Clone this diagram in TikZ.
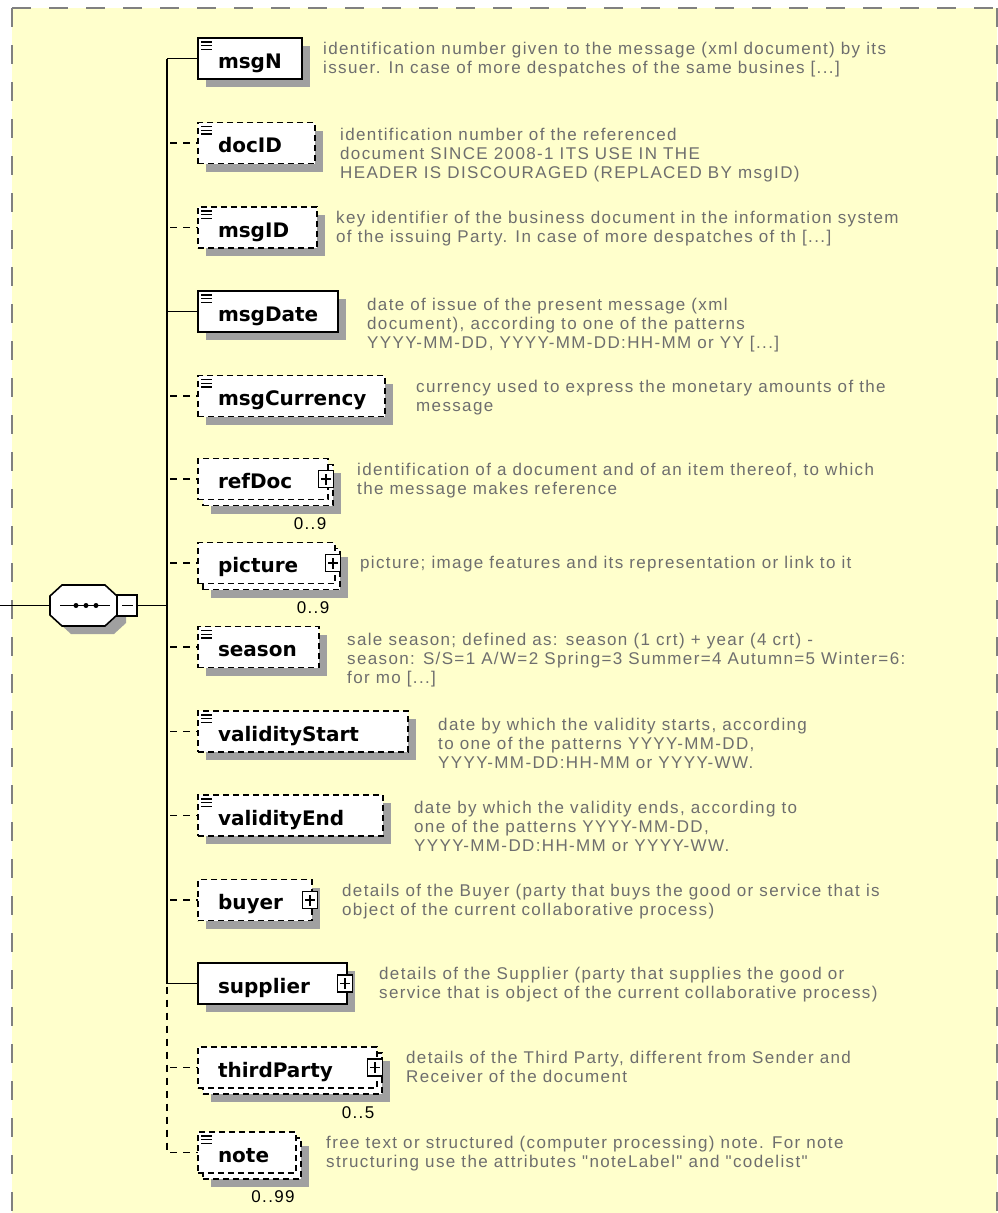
\documentclass[tikz,border=0pt]{standalone}
\usepackage{fontspec}
\usetikzlibrary{shadows}

\newfontfamily\namefont{DejaVu Sans}
\newfontfamily\descfont{Liberation Sans}[LetterSpace=8]

\definecolor{paper}{RGB}{255,255,204}
\definecolor{framegray}{RGB}{128,128,128}
\definecolor{shadowgray}{RGB}{160,160,160}
\definecolor{desctext}{RGB}{110,110,110}

\tikzset{
  box/.style={draw=black, line width=1.6pt, fill=white, anchor=west, align=left,
    font=\namefont\bfseries\fontsize{20}{24}\selectfont,
    inner xsep=20pt, inner ysep=0pt, outer sep=0pt, minimum height=41pt,
    text height=19.6pt, text depth=0pt},
  shd/.style={general shadow={fill=shadowgray, shadow xshift=8pt, shadow yshift=-8pt}},
  boxdash/.style={dash pattern=on 6pt off 4pt},
  req/.style={box, shd},
  opt/.style={box, shd, boxdash},
  many/.style={box, boxdash,
    general shadow={fill=shadowgray, shadow xshift=13pt, shadow yshift=-14pt},
    general shadow={draw=black, fill=white, shadow xshift=5pt, shadow yshift=-6pt}},
  leaf/.style={path picture={
    \foreach \d in {4,7.7,11.4}
      \draw[solid, line width=1.3pt] ([xshift=3pt, yshift=-\d pt]path picture bounding box.north west) -- ++(11,0);}},
  plus/.style={draw=black, solid, line width=1.3pt, fill=white, inner sep=0pt,
    minimum width=15pt, minimum height=17pt,
    path picture={\draw[line width=1.5pt]
      ([xshift=2.5pt]path picture bounding box.west) -- ([xshift=-2.5pt]path picture bounding box.east)
      ([yshift=3pt]path picture bounding box.south) -- ([yshift=-3pt]path picture bounding box.north);}},
  conn/.style={line width=1.6pt, black},
  optconn/.style={conn, dash pattern=on 7pt off 6pt, dash phase=10pt},
  desc/.style={anchor=north west, inner sep=0pt, align=left, text=desctext,
    font=\descfont\fontsize{17}{19}\selectfont},
  card/.style={inner sep=0pt, text=black, font=\descfont\fontsize{17}{19}\selectfont},
  border/.style={framegray, line width=2pt, dash pattern=on 19pt off 18pt}
}

\begin{document}
\begin{tikzpicture}[x=1pt,y=-1pt]
\useasboundingbox (0,0) rectangle (998,1213);
% sheet
\fill[paper] (12,8) rectangle (997,1213);
\draw[border] (12,8) -- (997,8);
\draw[border] (12,8) -- (12,1213);
\draw[border] (997,8) -- (997,1213);

% sequence compositor
\node[inner sep=0pt, outer sep=0pt, minimum width=67pt, minimum height=41pt] (seq) at (83.5,605.5) {};
\draw[conn, fill=white, general shadow={fill=shadowgray, shadow xshift=9pt, shadow yshift=-8pt}]
  ([xshift=12pt]seq.north west) -- ([xshift=-12pt]seq.north east)
  -- ([yshift=-11pt]seq.north east) -- ([yshift=11pt]seq.south east)
  -- ([xshift=-12pt]seq.south east) -- ([xshift=12pt]seq.south west)
  -- ([yshift=11pt]seq.south west) -- ([yshift=-11pt]seq.north west) -- cycle;
\draw[conn] ([xshift=10pt]seq.west) -- ([xshift=-7pt]seq.east);
\foreach \dx in {-7.5,2.5,12.5}
  \fill ([xshift=\dx pt]seq.center) circle (2.5);
\node[draw=black, line width=1.3pt, fill=white, inner sep=0pt, outer sep=0pt, anchor=west,
  minimum width=20pt, minimum height=21pt,
  path picture={\draw[line width=1.3pt] ([xshift=5pt]path picture bounding box.west)
    -- ([xshift=-4pt]path picture bounding box.east);}] (seqM) at (seq.east) {};
\coordinate (seqin) at (0,605.5);
\coordinate (trunk) at (167,605.5);

% elements
\node[req, leaf, text width=64pt] (msgN) at (198,58.5) {msgN};
\node[opt, leaf, text width=77pt] (docID) at (198,143) {docID};
\node[opt, leaf, text width=79pt] (msgID) at (198,227.5) {msgID};
\node[req, leaf, text width=100pt] (msgDate) at (198,311.5) {msgDate};
\node[opt, leaf, text width=147pt] (msgCurrency) at (198,396) {msgCurrency};
\node[many, text width=90pt] (refDoc) at (198,479) {refDoc};
\node[many, text width=97pt] (picture) at (198,563) {picture};
\node[opt, leaf, text width=81pt] (season) at (198,647) {season};
\node[opt, leaf, text width=170pt] (validityStart) at (198,731.5) {validityStart};
\node[opt, leaf, text width=145pt] (validityEnd) at (198,815.5) {validityEnd};
\node[opt, text width=74pt] (buyer) at (198,900) {buyer};
\node[req, text width=109pt] (supplier) at (198,983.5) {supplier};
\node[many, text width=139pt] (thirdParty) at (198,1067.5) {thirdParty};
\node[many, leaf, text width=58pt] (note) at (198,1152.5) {note};

% expand boxes
\node[plus] (refDocP) at ([xshift=-2pt]refDoc.east) {};
\node[plus] (pictureP) at ([xshift=-2pt]picture.east) {};
\node[plus] (buyerP) at ([xshift=-2pt]buyer.east) {};
\node[plus] (supplierP) at ([xshift=-2pt]supplier.east) {};
\node[plus] (thirdPartyP) at ([xshift=-2pt]thirdParty.east) {};

% occurrences
\node[card] (refDocN) at (310,524) {0..9};
\node[card] (pictureN) at (313,608) {0..9};
\node[card] (thirdPartyN) at (358,1113) {0..5};
\node[card] (noteN) at (273,1197) {0..99};

% connectors
\draw[conn] (seqin) -- (seq);
\draw[conn] (seqM) -- (trunk);
\draw[conn] (trunk |- msgN) -- (trunk |- supplier);
\draw[optconn] (trunk |- supplier) -- (trunk |- note);
\draw[conn] (trunk |- msgN) -- (msgN);
\draw[optconn] (trunk |- docID) -- (docID);
\draw[optconn] (trunk |- msgID) -- (msgID);
\draw[conn] (trunk |- msgDate) -- (msgDate);
\draw[optconn] (trunk |- msgCurrency) -- (msgCurrency);
\draw[optconn] (trunk |- refDoc) -- (refDoc);
\draw[optconn] (trunk |- picture) -- (picture);
\draw[optconn] (trunk |- season) -- (season);
\draw[optconn] (trunk |- validityStart) -- (validityStart);
\draw[optconn] (trunk |- validityEnd) -- (validityEnd);
\draw[optconn] (trunk |- buyer) -- (buyer);
\draw[conn] (trunk |- supplier) -- (supplier);
\draw[optconn] (trunk |- thirdParty) -- (thirdParty);
\draw[optconn] (trunk |- note) -- (note);

% annotations
\node[desc] (msgNtxt) at (323,41) {\strut identification number given to the message (xml document) by its\\issuer. In case of more despatches of the same busines [...]};
\node[desc] (docIDtxt) at (340,127) {\strut identification number of the referenced\\document SINCE 2008-1 ITS USE IN THE\\HEADER IS DISCOURAGED (REPLACED BY msgID)};
\node[desc] (msgIDtxt) at (336,210) {\strut key identifier of the business document in the information system\\of the issuing Party. In case of more despatches of th [...]};
\node[desc] (msgDatetxt) at (367,297) {\strut date of issue of the present message (xml\\document), according to one of the patterns\\YYYY-MM-DD, YYYY-MM-DD:HH-MM or YY [...]};
\node[desc] (msgCurrencytxt) at (416,378.5) {\strut currency used to express the monetary amounts of the\\message};
\node[desc] (refDoctxt) at (357,461.5) {\strut identification of a document and of an item thereof, to which\\the message makes reference};
\node[desc] (picturetxt) at (360,555) {\strut picture; image features and its representation or link to it};
\node[desc] (seasontxt) at (347,632) {\strut sale season; defined as: season (1 crt) + year (4 crt) -\\season: S/S=1 A/W=2 Spring=3 Summer=4 Autumn=5 Winter=6:\\for mo [...]};
\node[desc] (validityStarttxt) at (438,717) {\strut date by which the validity starts, according\\to one of the patterns YYYY-MM-DD,\\YYYY-MM-DD:HH-MM or YYYY-WW.};
\node[desc] (validityEndtxt) at (414,800) {\strut date by which the validity ends, according to\\one of the patterns YYYY-MM-DD,\\YYYY-MM-DD:HH-MM or YYYY-WW.};
\node[desc] (buyertxt) at (342,882.5) {\strut details of the Buyer (party that buys the good or service that is\\object of the current collaborative process)};
\node[desc] (suppliertxt) at (379,966) {\strut details of the Supplier (party that supplies the good or\\service that is object of the current collaborative process)};
\node[desc] (thirdPartytxt) at (406,1050) {\strut details of the Third Party, different from Sender and\\Receiver of the document};
\node[desc] (notetxt) at (326,1135) {\strut free text or structured (computer processing) note. For note\\structuring use the attributes "noteLabel" and "codelist"};
\end{tikzpicture}
\end{document}
